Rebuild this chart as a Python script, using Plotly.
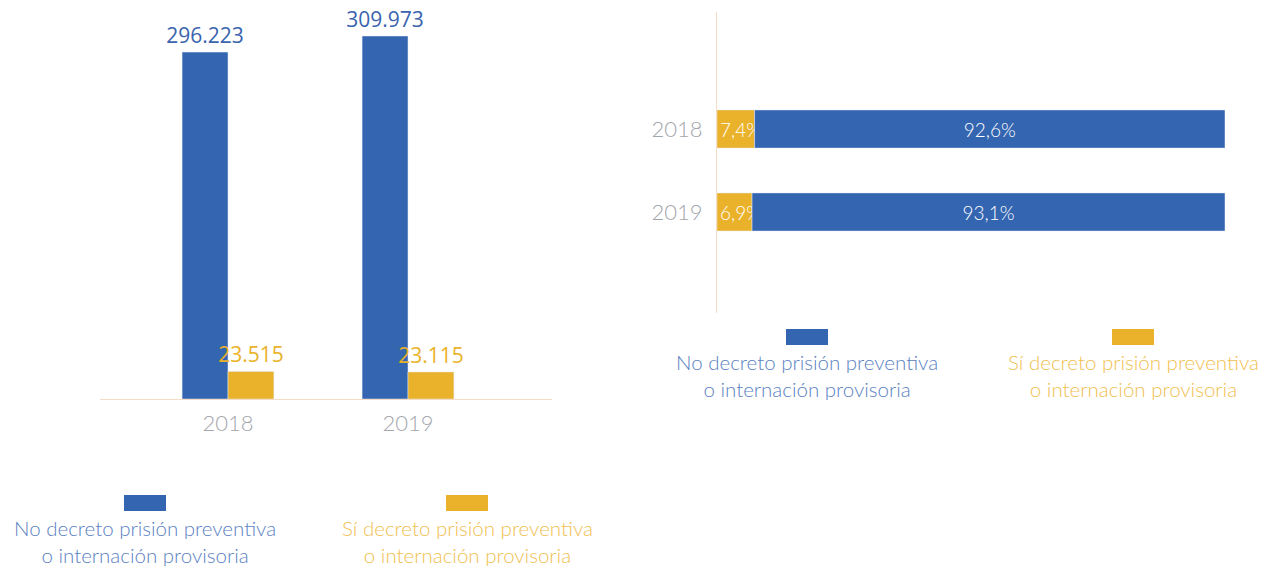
import plotly.graph_objects as go

W, H = 1264, 567

years = ["2018", "2019"]
series_names = ["No decreto prisión preventiva<br>o internación provisoria",
                "Sí decreto prisión preventiva<br>o internación provisoria"]
no_decreto = [296223, 309973]
si_decreto = [23515, 23115]
no_pct = [92.6, 93.1]
si_pct = [7.4, 6.9]

blue = "#3465B0"
yellow = "#EAB22A"
blue_txt = "#5A7FC2"
yellow_txt = "#F0C050"
gray = "#A3A6AD"
peach = "#F5DCC6"


def fmt_num(v):
    return f"{v:,}".replace(",", ".")


def fmt_pct(v):
    return f"{v:.1f}".replace(".", ",") + "%"


def px_x(p):
    return p / W


def px_y(p):
    return 1 - p / H


fig = go.Figure()

# left chart: absolute counts
fig.add_trace(go.Bar(x=years, y=no_decreto, marker_color=blue, name="no",
                     text=[fmt_num(v) for v in no_decreto], textposition="outside",
                     constraintext="none", textangle=0,
                     textfont=dict(color="#3A64AE", size=21, family="Open Sans"),
                     cliponaxis=False, xaxis="x", yaxis="y"))
fig.add_trace(go.Bar(x=years, y=si_decreto, marker_color=yellow, name="si",
                     text=[fmt_num(v) for v in si_decreto], textposition="outside",
                     constraintext="none", textangle=0,
                     textfont=dict(color=yellow, size=21, family="Open Sans"),
                     cliponaxis=False, xaxis="x", yaxis="y"))

# right chart: percentages (stacked)
fig.add_trace(go.Bar(y=years, x=si_pct, orientation="h", marker_color=yellow,
                     text=[fmt_pct(v) for v in si_pct], textposition="inside",
                     insidetextanchor="start", constraintext="none", textangle=0,
                     textfont=dict(color="white", size=19, family="Lato", weight=300),
                     offsetgroup="h", width=0.46, xaxis="x2", yaxis="y2"))
fig.add_trace(go.Bar(y=years, x=no_pct, base=si_pct, orientation="h", marker_color=blue,
                     text=[fmt_pct(v) for v in no_pct], textposition="inside",
                     insidetextanchor="middle", constraintext="none", textangle=0,
                     textfont=dict(color="white", size=19, family="Lato", weight=300),
                     offsetgroup="h", width=0.46, xaxis="x2", yaxis="y2"))

fig.update_layout(
    width=W, height=H,
    margin=dict(l=0, r=0, t=0, b=0),
    paper_bgcolor="white", plot_bgcolor="white",
    showlegend=False,
    barmode="group", bargap=0.49, bargroupgap=0.0,
    font=dict(family="Lato", color=gray),
    xaxis=dict(domain=[px_x(100), px_x(552)], range=[-0.711, 1.8],
               showline=True, linecolor=peach, linewidth=1, showgrid=False,
               ticks="", ticklabelstandoff=5,
               tickfont=dict(size=22, color=gray, family="Lato", weight=300)),
    yaxis=dict(domain=[px_y(399), px_y(0)], range=[0, 340715],
               visible=False, showgrid=False),
    xaxis2=dict(domain=[px_x(717), px_x(1225)], range=[0, 100], anchor="y2",
                visible=False, showgrid=False),
    yaxis2=dict(domain=[px_y(313), px_y(12)], range=[2.217, -1.41], anchor="x2",
                showline=True, linecolor=peach, linewidth=1, showgrid=False,
                ticks="", ticklabelstandoff=9,
                tickfont=dict(size=22, color=gray, family="Lato", weight=300)),
)

# custom legends: key square above a centred two-line label
legends = [
    (145, 495, blue, blue_txt, series_names[0]),
    (467, 495, yellow, yellow_txt, series_names[1]),
    (807, 329, blue, blue_txt, series_names[0]),
    (1133, 329, yellow, yellow_txt, series_names[1]),
]
for cx, top, col, tcol, label in legends:
    fig.add_shape(type="rect", xref="paper", yref="paper",
                  x0=px_x(cx - 21), x1=px_x(cx + 21), y0=px_y(top + 16), y1=px_y(top),
                  fillcolor=col, line_width=0)
    fig.add_annotation(x=px_x(cx), y=px_y(top + 19), xref="paper", yref="paper",
                       text=label, showarrow=False, xanchor="center", yanchor="top",
                       align="center",
                       font=dict(size=20.5, color=tcol, family="Lato", weight=300))

fig.write_html("out.html", config={"displayModeBar": False},
               post_script="document.body.style.margin='0';")
